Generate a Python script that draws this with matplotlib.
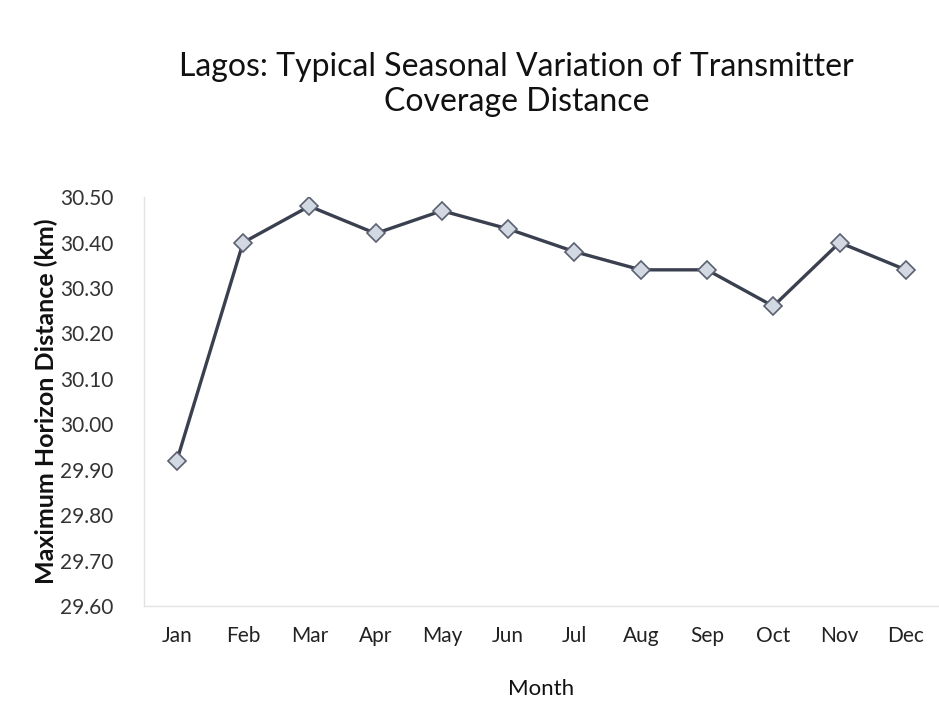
import matplotlib
matplotlib.use("Agg")
import matplotlib.pyplot as plt

months = ["Jan", "Feb", "Mar", "Apr", "May", "Jun", "Jul", "Aug", "Sep", "Oct", "Nov", "Dec"]
distance_km = [29.92, 30.40, 30.48, 30.42, 30.47, 30.43, 30.38, 30.34, 30.34, 30.26, 30.40, 30.34]
y_ticks = [29.60, 29.70, 29.80, 29.90, 30.00, 30.10, 30.20, 30.30, 30.40, 30.50]

plt.rcParams['font.family'] = ['Lato', 'DejaVu Sans']

fig = plt.figure(figsize=(9.39, 7.04), dpi=100)
ax = fig.add_axes([0.153, 0.139, 0.847, 0.581])

x = list(range(len(months)))
ax.plot(x, distance_km, color='#3b4050', linewidth=2.4,
        marker='D', markersize=9, markerfacecolor='#d3d9e2',
        markeredgecolor='#5a6070', markeredgewidth=1.2)

ax.set_xlim(-0.5, len(months) - 0.5)
ax.set_ylim(29.60, 30.50)
ax.set_yticks(y_ticks)
ax.set_yticklabels([f"{v:.2f}" for v in y_ticks], fontsize=15, color='#333333')
ax.set_xticks(x)
ax.set_xticklabels(months, fontsize=15, color='#222222')
ax.tick_params(axis='y', length=0, pad=22)
ax.tick_params(axis='x', length=0, pad=14)

for s in ['top', 'right']:
    ax.spines[s].set_visible(False)
for s in ['left', 'bottom']:
    ax.spines[s].set_color('#e2e2e2')
    ax.spines[s].set_linewidth(1.0)

ax.set_xlabel("Month", fontsize=16, color='#111111', labelpad=24)
ax.set_ylabel("Maximum Horizon Distance (km)", fontsize=18, fontweight='bold',
              color='#111111', labelpad=1)

fig.text(0.55, 0.905, "Lagos: Typical Seasonal Variation of Transmitter",
         ha='center', va='center', fontsize=23, color='#111111')
fig.text(0.55, 0.855, "Coverage Distance",
         ha='center', va='center', fontsize=23, color='#111111')

fig.savefig("out.png", dpi=100)
